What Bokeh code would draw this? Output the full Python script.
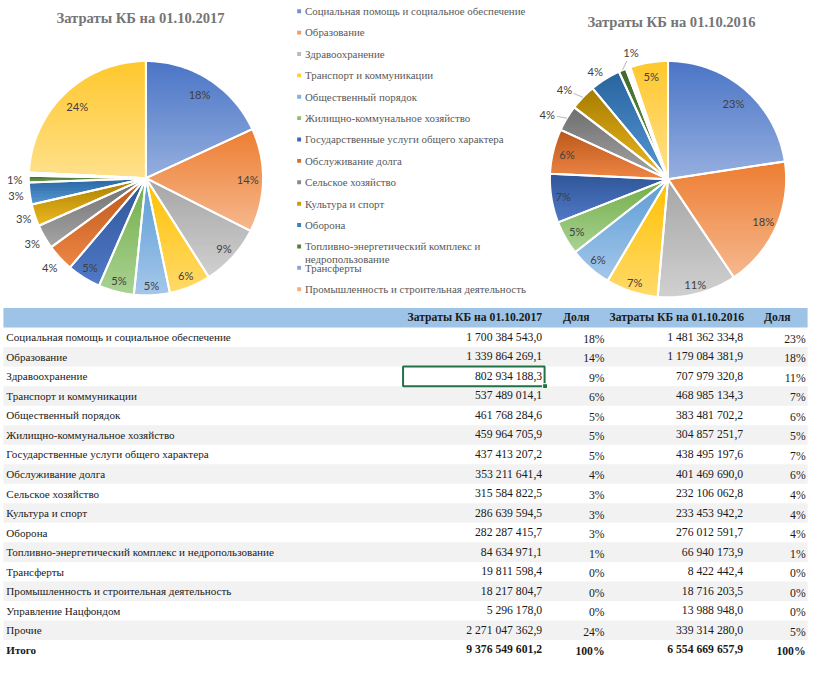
import math
from bokeh.plotting import figure
from bokeh.models import Range1d
from bokeh.core.properties import value
from bokeh.embed import file_html
from bokeh.resources import INLINE

# ---------------- data ----------------
categories = [
    "Социальная помощь и социальное обеспечение",
    "Образование",
    "Здравоохранение",
    "Транспорт и коммуникации",
    "Общественный порядок",
    "Жилищно-коммунальное хозяйство",
    "Государственные услуги общего характера",
    "Обслуживание долга",
    "Сельское хозяйство",
    "Культура и спорт",
    "Оборона",
    "Топливно-энергетический комплекс и недропользование",
    "Трансферты",
    "Промышленность и строительная деятельность",
    "Управление Нацфондом",
    "Прочие",
]
values_2017 = [
    1700384543.0, 1339864269.1, 802934188.3, 537489014.1, 461768284.6,
    459964705.9, 437413207.2, 353211641.4, 315584822.5, 286639594.5,
    282287415.7, 84634971.1, 19811598.4, 18217804.7, 5296178.0, 2271047362.9,
]
values_2016 = [
    1481362334.8, 1179084381.9, 707979320.8, 468985134.3, 383481702.2,
    304857251.7, 438495197.6, 401469690.0, 232106062.8, 233453942.2,
    276012591.7, 66940173.9, 8422442.4, 18716203.5, 13988948.0, 339314280.0,
]
total_2017 = 9376549601.2
total_2016 = 6554669657.9
pie_titles = ["Затраты КБ на 01.10.2017", "Затраты КБ на 01.10.2016"]
table_headers = ["Затраты КБ на 01.10.2017", "Доля", "Затраты КБ на 01.10.2016", "Доля"]
total_label = "Итого"
legend_count = 14

# ---------------- style ----------------
top_colors = ["#4A74C6", "#ED7D31", "#A5A5A5", "#FFC000", "#5B9BD5", "#70AD47",
              "#2F5597", "#B9571A", "#6E6E6E", "#A67C00", "#28649E", "#43682B",
              "#698ED0", "#F1975A", "#B7B7B7", "#FFC72C"]
bottom_colors = ["#95AFDF", "#F6B88E", "#D0D0D0", "#FFDA6A", "#A4C7EA", "#AAD293",
                 "#5079C7", "#EE8544", "#A5A5A5", "#EDB820", "#5597D4", "#6A9A48",
                 "#A9BEE8", "#F8C6A4", "#D8D8D8", "#FFE18C"]

S = 660 / 676.0
def fs(px):
    return f"{px * S:.1f}px"

SERIF = value("Liberation Serif")
SANS = value("Lato")

def hex_rgb(h):
    h = h.lstrip("#")
    return tuple(int(h[i:i + 2], 16) for i in (0, 2, 4))

def mix(c1, c2, t):
    a, b = hex_rgb(c1), hex_rgb(c2)
    return "#%02x%02x%02x" % tuple(int(round(a[i] + (b[i] - a[i]) * t)) for i in range(3))

def fmt_num(v):
    return f"{v:,.1f}".replace(",", " ").replace(".", ",")

def pct(v, t):
    return f"{int(round(v / t * 100))}%"

p = figure(width=811, height=660, output_backend="svg", toolbar_location=None,
           x_range=Range1d(0, 831), y_range=Range1d(676, 0),
           x_axis_type=None, y_axis_type=None, min_border=0,
           outline_line_color=None, background_fill_color="white")
p.grid.visible = False

# ---------------- pies ----------------
def cut(poly, y0, keep_greater):
    out = []
    n = len(poly)
    for i in range(n):
        cur, prev = poly[i], poly[i - 1]
        cin = cur[1] >= y0 if keep_greater else cur[1] <= y0
        pin = prev[1] >= y0 if keep_greater else prev[1] <= y0
        if cin != pin:
            t = (y0 - prev[1]) / (cur[1] - prev[1])
            out.append((prev[0] + t * (cur[0] - prev[0]), y0))
        if cin:
            out.append(cur)
    return out

def draw_pie(vals, cx, cy, r, lab_f, nudges, leaders):
    tot = sum(vals)
    cum = 0.0
    bx, by, bc = [], [], []
    ox, oy = [], []
    lx, ly, lt = [], [], []
    seg = [[], [], [], []]
    for i, v in enumerate(vals):
        a0 = cum / tot * 2 * math.pi
        cum += v
        a1 = cum / tot * 2 * math.pi
        n = max(2, int(math.degrees(a1 - a0)) + 2)
        poly = [(cx, cy)]
        for k in range(n):
            a = a0 + (a1 - a0) * k / (n - 1)
            poly.append((cx + r * math.sin(a), cy - r * math.cos(a)))
        ox.append([q[0] for q in poly])
        oy.append([q[1] for q in poly])
        ymin = min(q[1] for q in poly)
        ymax = max(q[1] for q in poly)
        nb = max(1, int((ymax - ymin) / 3))
        for b in range(nb):
            y0 = ymin + (ymax - ymin) * b / nb
            y1 = ymin + (ymax - ymin) * (b + 1) / nb
            part = cut(cut(poly, y0 - 0.6, True), y1 + 0.6, False)
            if len(part) < 3:
                continue
            bx.append([q[0] for q in part])
            by.append([q[1] for q in part])
            bc.append(mix(top_colors[i], bottom_colors[i], (b + 0.5) / nb))
        if lab_f[i] is not None:
            am = (a0 + a1) / 2
            an = am + math.radians(nudges[i])
            x = cx + lab_f[i] * r * math.sin(an)
            y = cy - lab_f[i] * r * math.cos(an)
            lx.append(x); ly.append(y); lt.append(pct(v, tot))
            if i in leaders:
                ex, ey = cx + r * math.sin(am), cy - r * math.cos(am)
                dx, dy = ex - x, ey - y
                d = math.hypot(dx, dy)
                sx, sy = x + dx / d * 10, y + dy / d * 10
                seg[0].append(sx); seg[1].append(sy); seg[2].append(ex); seg[3].append(ey)
    p.patches(bx, by, fill_color=bc, line_color=None)
    p.patches(ox, oy, fill_alpha=0, line_color="white", line_width=2, line_join="round")
    p.text(lx, ly, text=lt, text_align="center", text_baseline="middle",
           text_font=SANS, text_font_size=fs(11.5), text_color="#404040")
    if seg[0]:
        p.segment(seg[0], seg[1], seg[2], seg[3], line_color="#A6A6A6", line_width=0.8)

lab_2017 = [0.85, 0.87, 0.9, 0.9, 0.92, 0.9, 0.9, 1.12, 1.12, 1.1, 1.12, 1.12, None, None, None, 0.85]
nud_2017 = [0] * 16
lab_2016 = [0.85, 0.88, 0.92, 0.92, 0.9, 0.89, 0.9, 0.88, 1.16, 1.16, 1.1, 1.12, None, None, None, 0.88]
nud_2016 = [0, 0, 0, 0, 0, 0, 0, 0, -3, -3, -2, 6.5, 0, 0, 0, 0]

draw_pie(values_2017, 149, 182, 120, lab_2017, nud_2017, [])
draw_pie(values_2016, 684, 183, 121, lab_2016, nud_2016, [8, 9, 11])

p.text([143.5, 687.5], [18, 22], text=pie_titles, text_align="center", text_baseline="middle",
       text_font=SERIF, text_font_style="bold", text_font_size=fs(15), text_color="#757575")

# ---------------- legend ----------------
leg_y = [11 + 21.9 * i for i in range(legend_count)]
leg_txt = [c.replace(" и недропользование", " и\nнедропользование") for c in categories[:legend_count]]
leg_col = [mix(top_colors[i], bottom_colors[i], 0.5) for i in range(legend_count)]
p.scatter([306] * legend_count, leg_y, marker="square", size=4 * S, fill_color=leg_col, line_color=None)
p.text([312] * legend_count, [y - 6.3 for y in leg_y], text=leg_txt, text_align="left",
       text_baseline="top", text_font=SERIF, text_font_size=fs(11.2), text_color="#595959",
       text_line_height=1.1)

# ---------------- table ----------------
n_rows = len(categories) + 1
row_y = [345 + 20 * i for i in range(n_rows)]
p.quad(left=[3], right=[827], top=[315], bottom=[335], fill_color="#9DC3E6", line_color=None)
grey = [i for i in range(n_rows) if i % 2 == 1]
p.quad(left=[3] * len(grey), right=[827] * len(grey),
       top=[row_y[i] - 10 for i in grey], bottom=[row_y[i] + 10 for i in grey],
       fill_color="#F2F2F2", line_color=None)

p.text([555, 590, 762, 796], [325] * 4, text=table_headers,
       text_align=["right", "center", "right", "center"], text_baseline="middle",
       text_font=SERIF, text_font_style="bold", text_font_size=fs(12), text_color="#1A1A1A")

body_y = row_y[:-1]
names = categories
v17 = [fmt_num(v) for v in values_2017]
s17 = [pct(v, total_2017) for v in values_2017]
v16 = [fmt_num(v) for v in values_2016]
s16 = [pct(v, total_2016) for v in values_2016]
common = dict(text_baseline="middle", text_font=SERIF, text_font_size=fs(12), text_color="#1A1A1A")
name_style = dict(common, text_font_size=fs(11.4))
p.text([6] * len(names), body_y, text=names, text_align="left", **name_style)
p.text([555] * len(names), body_y, text=v17, text_align="right", **common)
p.text([619] * len(names), [y + 2 for y in body_y], text=s17, text_align="right", **common)
p.text([761] * len(names), body_y, text=v16, text_align="right", **common)
p.text([825] * len(names), [y + 2 for y in body_y], text=s16, text_align="right", **common)

ty = row_y[-1]
p.text([6], [ty], text=[total_label], text_align="left", text_font_style="bold", **name_style)
p.text([555, 619, 761, 825], [ty, ty + 2, ty, ty + 2],
       text=[fmt_num(total_2017), pct(total_2017, total_2017),
             fmt_num(total_2016), pct(total_2016, total_2016)],
       text_align="right", text_font_style="bold", **common)

# Excel selection box around a cell
sel = 2
p.quad(left=[412.5], right=[557.5], top=[row_y[sel] - 10], bottom=[row_y[sel] + 10],
       fill_alpha=0, line_color="#217346", line_width=2)
p.quad(left=[555.5], right=[560.5], top=[row_y[sel] + 7.5], bottom=[row_y[sel] + 12.5],
       fill_color="#217346", line_color="white", line_width=1)

open("out.html", "w").write(file_html(p, INLINE))
